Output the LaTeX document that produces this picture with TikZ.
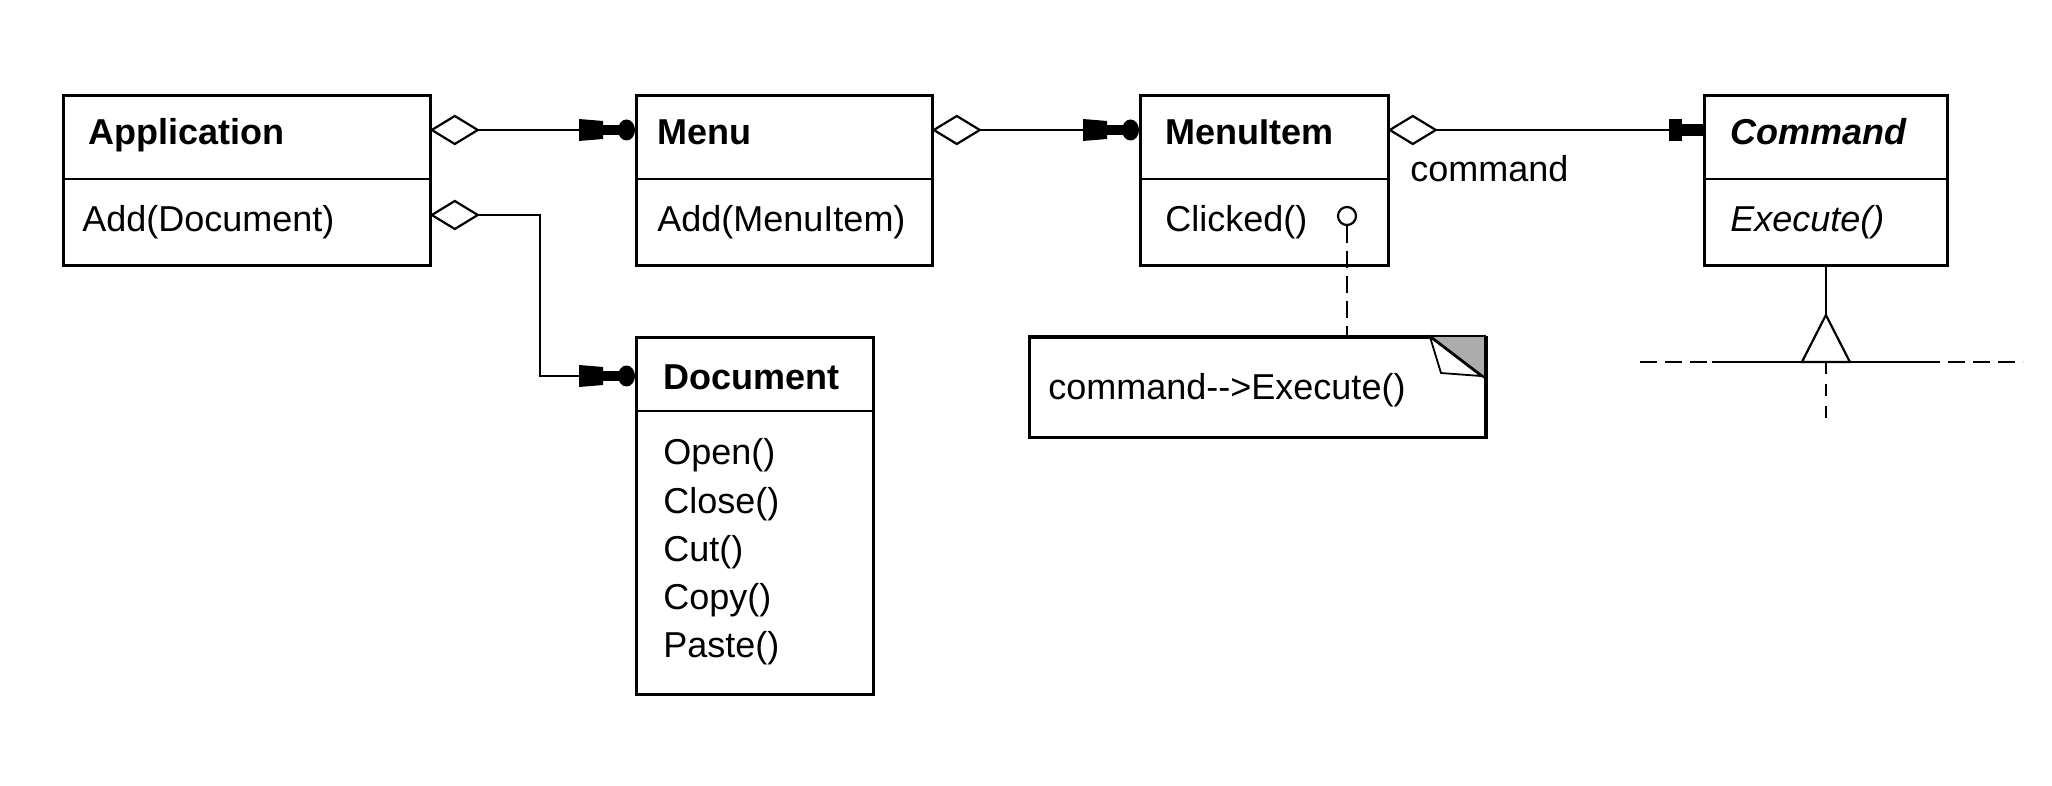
\documentclass[tikz,border=0pt]{standalone}
\usepackage{fontspec}
\setmainfont{Liberation Sans}
\usetikzlibrary{calc}
\begin{document}
\begin{tikzpicture}[x=0.5pt,y=-0.5pt,
  box/.style={draw, line width=1.4pt, inner sep=0pt, anchor=north west},
  divider/.style={line width=1.4pt},
  conn/.style={line width=1.1pt},
  txt/.style={anchor=base west, inner sep=0pt, font=\fontsize{18}{21}\selectfont},
  ttl/.style={anchor=base west, inner sep=0pt, font=\fontsize{18}{21}\selectfont\bfseries},
  dashline/.style={line width=1.1pt, dash pattern=on 8.5pt off 4pt},
  aggdia/.pic={\draw[line width=1.1pt, fill=white] (0,0) -- (23,-14) -- (46,0) -- (23,14) -- cycle;},
  manyend/.pic={\fill (-56,-11) -- (-32,-9) -- (-32,9) -- (-56,11) -- cycle;
                \fill (-33,-5) rectangle (-15,5);
                \fill (-8.5,0) ellipse [x radius=4.25pt, y radius=5.25pt];},
  oneend/.pic={\fill (-34,-11) rectangle (-21,11);
               \fill (-22,-6) rectangle (0,6);}
]
\useasboundingbox (0,0) rectangle (2052,786);

% Application
\node[box, minimum width=183.5pt, minimum height=85pt] (app) at (62,94) {};
\draw[divider] (app.west |- 0,179) -- (app.east |- 0,179);
\node[ttl] (appT) at (88,145) {Application};
\node[txt] (appM) at (82,232) {Add(Document)};

% Menu
\node[box, minimum width=148pt, minimum height=85pt] (menu) at (635,94) {};
\draw[divider] (menu.west |- 0,179) -- (menu.east |- 0,179);
\node[ttl] (menuT) at (657,145) {Menu};
\node[txt] (menuM) at (657,232) {Add(MenuItem)};

% MenuItem
\node[box, minimum width=124pt, minimum height=85pt] (item) at (1139,94) {};
\draw[divider] (item.west |- 0,179) -- (item.east |- 0,179);
\node[ttl] (itemT) at (1165,145) {MenuItem};
\node[txt] (itemM) at (1165,232) {Clicked()};

% Command
\node[box, minimum width=121.5pt, minimum height=85pt] (cmd) at (1703,94) {};
\draw[divider] (cmd.west |- 0,179) -- (cmd.east |- 0,179);
\node[ttl, font=\fontsize{18}{21}\selectfont\bfseries\itshape] (cmdT) at (1730,145) {Command};
\node[txt, font=\fontsize{18}{21}\selectfont\itshape] (cmdM) at (1730,232) {Execute()};

% Document
\node[box, minimum width=118.5pt, minimum height=178.5pt] (doc) at (635,336) {};
\draw[divider] (doc.west |- 0,411) -- (doc.east |- 0,411);
\node[ttl] (docT) at (663,390) {Document};
\node[txt] (docM1) at (663,465) {Open()};
\node[txt] (docM2) at (663,513) {Close()};
\node[txt] (docM3) at (663,561) {Cut()};
\node[txt] (docM4) at (663,609) {Copy()};
\node[txt] (docM5) at (663,657) {Paste()};

% Note
\node[box, minimum width=228.5pt, minimum height=50pt] (note) at (1028,336) {};
\fill[gray!65] (1430,336) -- (1485,336) -- (1485,378) -- cycle;
\draw[line width=1.1pt] (1430,336) -- (1485,378);
\draw[line width=1.4pt] (1028,336) -- (1485,336) -- (1485,436);
\draw[line width=0.9pt, fill=white] (1430,337) -- (1441,373) -- (1481,376) -- cycle;
\node[txt] (noteT) at (1048,400) {command-{}->Execute()};

% Clicked circle and note link
\node[draw, circle, line width=1.1pt, fill=white, minimum size=9pt, inner sep=0pt] (clk) at (1347,216) {};
\draw[dashline] (clk.south) -- (note.north -| clk.south);

% Associations
\coordinate (a1) at (app.east |- 0,130);
\coordinate (m1) at (menu.west |- 0,130);
\draw[conn] (a1) -- (m1);
\pic at (a1) {aggdia};
\pic at (m1) {manyend};

\coordinate (m2) at (menu.east |- 0,130);
\coordinate (i1) at (item.west |- 0,130);
\draw[conn] (m2) -- (i1);
\pic at (m2) {aggdia};
\pic at (i1) {manyend};

\coordinate (i2) at (item.east |- 0,130);
\coordinate (c1) at (cmd.west |- 0,130);
\draw[conn] (i2) -- (c1);
\pic at (i2) {aggdia};
\pic at (c1) {oneend};
\node[txt] (role) at (1410,182) {command};

\coordinate (a2) at (app.east |- 0,215);
\coordinate (bend) at (540,215);
\coordinate (d1) at (doc.west |- 0,376);
\draw[conn] (a2) -- (bend) |- (d1);
\pic at (a2) {aggdia};
\pic at (d1) {manyend};

% Inheritance
\coordinate (apex) at (cmd.south |- 0,315);
\draw[conn] (cmd.south) -- (apex);
\draw[conn, fill=white] (apex) -- ++(-24,47) -- ++(48,0) -- cycle;
\coordinate (hl) at (1712,362);
\coordinate (hr) at (1923,362);
\draw[conn] (hl) -- (hr);
\draw[dashline] (1640,362) -- (hl);
\draw[dashline] (hr) -- (2023,362);
\draw[dashline, dash pattern=on 6pt off 5pt] (cmd.south |- 0,362) -- (cmd.south |- 0,427);
\end{tikzpicture}
\end{document}
